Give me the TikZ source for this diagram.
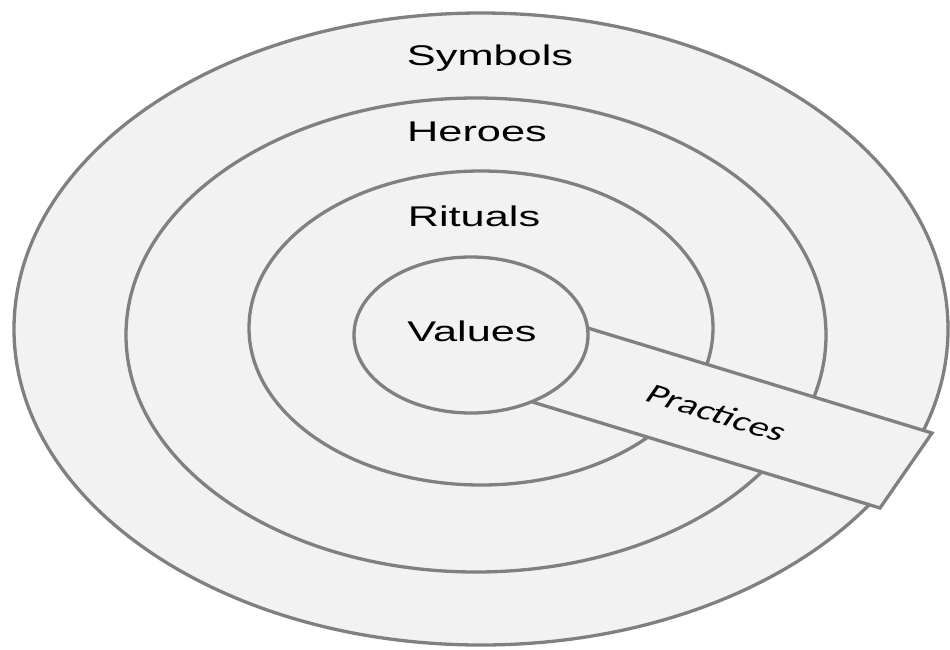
\documentclass[tikz,border=0pt]{standalone}
\usepackage{fontspec}
\setmainfont{Liberation Sans}
\newfontfamily\carl{Carlito}
\definecolor{ringline}{RGB}{128,128,128}
\definecolor{ringfill}{RGB}{242,242,242}
\tikzset{
  ring/.style={draw=ringline, fill=ringfill, line width=3.3pt},
  lbl/.style={inner sep=0pt, font=\fontsize{28.5}{30}\selectfont, text=black},
}
\newcommand{\wide}[1]{\scalebox{1.52}[1]{#1}}
\begin{document}
\begin{tikzpicture}[x=1pt, y=-1pt]
\useasboundingbox (0,0) rectangle (950,649);
% rings
\draw[ring] (481,329) ellipse [x radius=467pt, y radius=316pt];
\draw[ring] (476,335) ellipse [x radius=350pt, y radius=237pt];
\draw[ring] (481,328) ellipse [x radius=232pt, y radius=157pt];
% practices band
\draw[ring, line join=miter] (532,311) -- (932,433) -- (880,508) -- (480,386) -- cycle;
% inner circle
\draw[ring] (471,335) ellipse [x radius=117pt, y radius=78pt];
% labels
\node[lbl] (symbols) at (490,58) {\wide{Symbols}};
\node[lbl] (heroes) at (477,132) {\wide{Heroes}};
\node[lbl] (rituals) at (474,216) {\wide{Rituals}};
\node[lbl] (values) at (472,331) {\wide{Values}};
\node[inner sep=0pt, font=\carl\fontsize{27.5}{29}\selectfont, xscale=1.5, rotate=-24.7] (practices) at (717,413) {Practices};
\end{tikzpicture}
\end{document}
